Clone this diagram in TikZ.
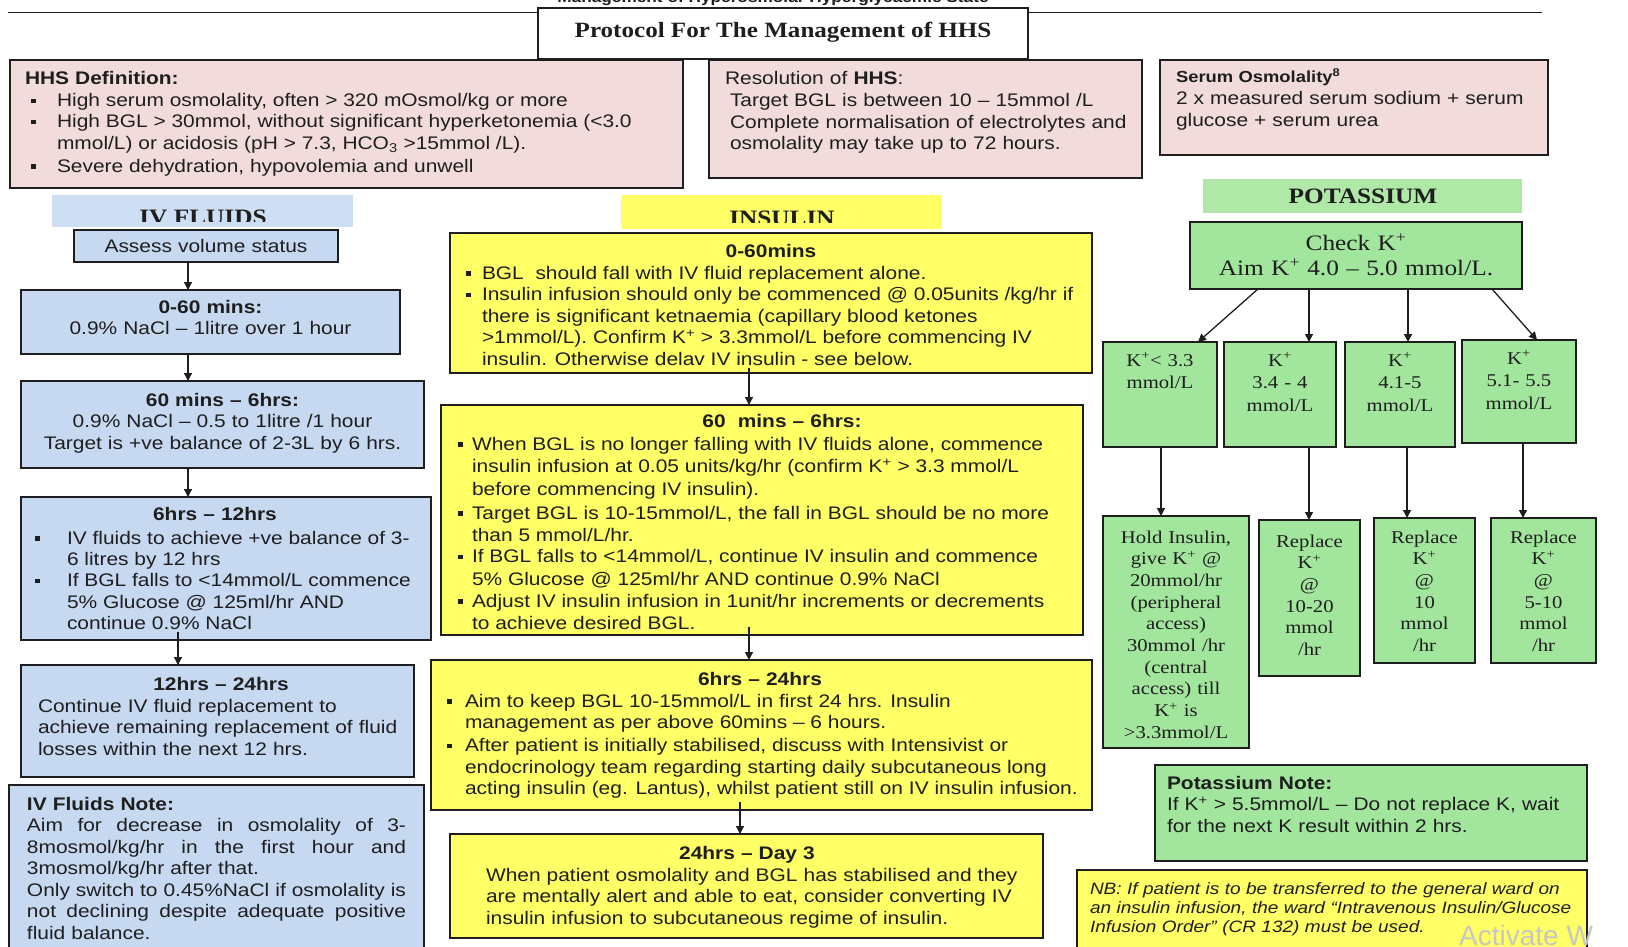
\documentclass[tikz,border=0pt]{standalone}
\usepackage{fontspec}
\setmainfont[FakeStretch=1.15]{Liberation Sans}
\newfontfamily\tms[FakeStretch=1.15]{Liberation Serif}
\newfontfamily\plainsans{Liberation Sans}
\usetikzlibrary{arrows.meta}
\definecolor{pinkc}{HTML}{F2DCDB}
\definecolor{bluec}{HTML}{C6D9F1}
\definecolor{yelc}{HTML}{FFFF66}
\definecolor{greenc}{HTML}{A2E59C}
\definecolor{greenband}{HTML}{B0E8A8}
\definecolor{linec}{HTML}{1E1E1E}
\newcommand{\fs}{\fontsize{18.2}{21.5}\selectfont}
\newcommand{\kf}{\tms\fontsize{18}{22.5}\selectfont}
\newcommand{\rf}{\tms\fontsize{18}{21.7}\selectfont}
\newcommand{\bul}[2]{\makebox[#1][l]{\rule[3.5pt]{4.5pt}{4.5pt}}\parbox[t]{700pt}{#2}}
\newcommand{\jl}[1]{\makebox[379pt][s]{\spaceskip=0pt\xspaceskip=0pt\relax #1}}
\tikzset{
  bx/.style={draw=linec, line width=1.3pt, inner sep=0pt, outer sep=0pt, anchor=north west},
  band/.style={draw=none, inner sep=0pt, outer sep=0pt, anchor=north west},
  tl/.style={inner sep=0pt, outer sep=0pt, anchor=base west, align=left, text width=#1, font=\fs, text=linec},
  tc/.style={inner sep=0pt, outer sep=0pt, anchor=base, align=center, text width=#1, font=\fs, text=linec},
  bl/.style={inner sep=0pt, outer sep=0pt, anchor=base west, font=\fs, text=linec},
  hd/.style={inner sep=0pt, outer sep=0pt, anchor=base, font=\tms\bfseries\fontsize{22}{24}\selectfont, text=linec},
  arr/.style={draw=linec, line width=1.3pt, -{Triangle[length=8pt,width=8pt]}},
}
\begin{document}
\begin{tikzpicture}[x=1pt,y=-1pt]
\useasboundingbox (0,0) rectangle (1628,947);
\fill[white] (0,0) rectangle (1628,947);

% header
\node[inner sep=0pt, anchor=base, font=\bfseries\fontsize{15}{18}\selectfont, text=linec] (hdr) at (773,2.5) {Management of Hyperosmolar Hyperglycaemic State};
\coordinate (lineL) at (8,12.5);
\coordinate (lineR) at (1542,12.5);
\draw[linec, line width=1.4pt] (lineL) -- (lineR);
\node[bx, fill=white, minimum width=490pt, minimum height=51pt] (T) at (538,8) {};
\node[hd, font=\tms\bfseries\fontsize{21.8}{24}\selectfont] (ttl) at (783,38) {Protocol For The Management of HHS};

% top pink boxes
\node[bx, fill=pinkc, minimum width=673pt, minimum height=128pt] (D) at (10,60) {};
\node[tl=660pt] (dT) at (25,85) {\textbf{HHS Definition:}};
\node[bl] (dB1) at (31,107) {\bul{26pt}{High serum osmolality, often > 320 mOsmol/kg or more}};
\node[bl] (dB2) at (31,128) {\bul{26pt}{High BGL > 30mmol, without significant hyperketonemia (<3.0\\mmol/L) or acidosis (pH > 7.3, HCO\textsubscript{3} >15mmol /L).}};
\node[bl] (dB3) at (31,172) {\bul{26pt}{Severe dehydration, hypovolemia and unwell}};

\node[bx, fill=pinkc, minimum width=433pt, minimum height=118pt] (R) at (709,60) {};
\node[tl=420pt] (rT) at (725,85) {Resolution of \textbf{HHS}:};
\node[tl=420pt] (rB) at (730,107) {Target BGL is between 10 – 15mmol /L\\Complete normalisation of electrolytes and\\osmolality may take up to 72 hours.};

\node[bx, fill=pinkc, minimum width=388pt, minimum height=95pt] (S) at (1160,60) {};
\node[tl=380pt, font=\bfseries\fontsize{16}{19}\selectfont] (sT) at (1176,83) {Serum Osmolality\textsuperscript{8}};
\node[tl=380pt] (sB) at (1176,105) {2 x measured serum sodium + serum\\glucose + serum urea};

% IV fluids column
\node[band, fill=bluec!85, minimum width=301pt, minimum height=32pt] (ivband) at (52,195) {};
\begin{scope}
\clip (52,195) rectangle (353,221);
\node[hd] (ivh) at (203,224) {IV FLUIDS};
\end{scope}
\node[bx, fill=bluec, minimum width=264pt, minimum height=32pt] (A) at (74,230) {};
\node[tc=260pt] (aT) at (206,252) {Assess volume status};

\node[bx, fill=bluec, minimum width=379pt, minimum height=64pt] (F1) at (21,290) {};
\node[tc=375pt] (f1T) at (210.5,313) {\textbf{0-60 mins:}\\0.9\% NaCl – 1litre over 1 hour};

\node[bx, fill=bluec, minimum width=403pt, minimum height=87pt] (F2) at (21,381) {};
\node[tc=400pt] (f2T) at (222.5,406) {\textbf{60 mins – 6hrs:}\\0.9\% NaCl – 0.5 to 1litre /1 hour\\Target is +ve balance of 2-3L by 6 hrs.};

\node[bx, fill=bluec, minimum width=410pt, minimum height=143pt] (F3) at (21,497) {};
\node[tc=300pt] (f3H) at (215,520) {\textbf{6hrs – 12hrs}};
\node[bl] (f3B1) at (35,544) {\bul{32pt}{IV fluids to achieve +ve balance of 3-\\6 litres by 12 hrs}};
\node[bl] (f3B2) at (35,586.5) {\bul{32pt}{If BGL falls to <14mmol/L commence\\5\% Glucose @ 125ml/hr AND\\continue 0.9\% NaCl}};

\node[bx, fill=bluec, minimum width=393pt, minimum height=112pt] (F4) at (21,665) {};
\node[tc=300pt] (f4H) at (221,690) {\textbf{12hrs – 24hrs}};
\node[tl=480pt] (f4B) at (38,712) {Continue IV fluid replacement to\\achieve remaining replacement of fluid\\losses within the next 12 hrs.};

\node[bx, fill=bluec, minimum width=415pt, minimum height=175pt] (FN) at (9,785) {};
\node[tl=400pt] (fnT) at (27,810) {\textbf{IV Fluids Note:}\\\jl{Aim for decrease in osmolality of 3-}\\\jl{8mosmol/kg/hr in the first hour and}\\3mosmol/kg/hr after that.\\\jl{Only switch to 0.45\%NaCl if osmolality is}\\\jl{not declining despite adequate positive}\\fluid balance.};

\draw[arr] ([xshift=-18pt]A.south) -- ([xshift=-18pt]A.south |- F1.north);
\draw[arr] ([xshift=-22.5pt]F1.south) -- ([xshift=-22.5pt]F1.south |- F2.north);
\draw[arr] ([xshift=-34.5pt]F2.south) -- ([xshift=-34.5pt]F2.south |- F3.north);
\draw[arr] ([xshift=-48pt,yshift=8pt]F3.south) -- ([xshift=-48pt]F3.south |- F4.north);

% insulin column
\node[band, fill=yelc, minimum width=321pt, minimum height=34pt] (insband) at (621,195) {};
\begin{scope}
\clip (621,195) rectangle (942,222);
\node[hd] (insh) at (782,225) {INSULIN};
\end{scope}

\node[bx, fill=yelc, minimum width=642pt, minimum height=140pt] (I1) at (450,233) {};
\node[tc=400pt] (i1H) at (771,257) {\textbf{0-60mins}};
\node[bl] (i1B1) at (466,279) {\bul{16pt}{BGL \ should fall with IV fluid replacement alone.}};
\node[bl] (i1B2) at (466,300.5) {\bul{16pt}{Insulin infusion should only be commenced @ 0.05units /kg/hr if\\there is significant ketnaemia (capillary blood ketones\\>1mmol/L). Confirm K\textsuperscript{+} > 3.3mmol/L before commencing IV\\insulin. Otherwise delav IV insulin - see below.}};

\node[bx, fill=yelc, minimum width=642pt, minimum height=230pt] (I2) at (441,405) {};
\node[tc=400pt] (i2H) at (782,427.5) {\textbf{60 \ mins – 6hrs:}};
\node[bl, font=\fontsize{18.2}{22.5}\selectfont] (i2B1) at (458,450) {\bul{14pt}{When BGL is no longer falling with IV fluids alone, commence\\insulin infusion at 0.05 units/kg/hr (confirm K\textsuperscript{+} > 3.3 mmol/L\\before commencing IV insulin).}};
\node[bl, font=\fontsize{18.2}{22.5}\selectfont] (i2B2) at (458,519) {\bul{14pt}{Target BGL is 10-15mmol/L, the fall in BGL should be no more\\than 5 mmol/L/hr.}};
\node[bl, font=\fontsize{18.2}{22.5}\selectfont] (i2B3) at (458,562.5) {\bul{14pt}{If BGL falls to <14mmol/L, continue IV insulin and commence\\5\% Glucose @ 125ml/hr AND continue 0.9\% NaCl}};
\node[bl, font=\fontsize{18.2}{22.5}\selectfont] (i2B4) at (458,607) {\bul{14pt}{Adjust IV insulin infusion in 1unit/hr increments or decrements\\to achieve desired BGL.}};

\node[bx, fill=yelc, minimum width=661pt, minimum height=150pt] (I3) at (431,660) {};
\node[tc=400pt] (i3H) at (760,685) {\textbf{6hrs – 24hrs}};
\node[bl, font=\fontsize{18.2}{21.7}\selectfont] (i3B1) at (447,707) {\bul{18pt}{Aim to keep BGL 10-15mmol/L in first 24 hrs. Insulin\\management as per above 60mins – 6 hours.}};
\node[bl, font=\fontsize{18.2}{21.7}\selectfont] (i3B2) at (447,751.5) {\bul{18pt}{After patient is initially stabilised, discuss with Intensivist or\\endocrinology team regarding starting daily subcutaneous long\\acting insulin (eg. Lantus), whilst patient still on IV insulin infusion.}};

\node[bx, fill=yelc, minimum width=593pt, minimum height=104pt] (I4) at (450,834) {};
\node[tc=400pt] (i4H) at (747,859.5) {\textbf{24hrs – Day 3}};
\node[tl=700pt] (i4B) at (486,881) {When patient osmolality and BGL has stabilised and they\\are mentally alert and able to eat, consider converting IV\\insulin infusion to subcutaneous regime of insulin.};

\draw[arr] ([xshift=-22pt,yshift=5pt]I1.south) -- ([xshift=-22pt]I1.south |- I2.north);
\draw[arr] ([xshift=-13pt,yshift=8pt]I2.south) -- ([xshift=-13pt]I2.south |- I3.north);
\draw[arr] ([xshift=-21.5pt,yshift=8pt]I3.south) -- ([xshift=-21.5pt]I3.south |- I4.north);

% potassium column
\node[band, fill=greenband, minimum width=319pt, minimum height=34pt] (kband) at (1203,179) {};
\node[hd] (kh) at (1363,204) {POTASSIUM};
\node[bx, fill=greenc, minimum width=332pt, minimum height=67pt] (CK) at (1190,222) {};
\node[tc=330pt, font=\tms\fontsize{22}{25}\selectfont] (ckT) at (1356,250) {Check K\textsuperscript{+}\\Aim K\textsuperscript{+} 4.0 – 5.0 mmol/L.};

\node[bx, fill=greenc, minimum width=114pt, minimum height=105pt] (K1) at (1103,342) {};
\node[bx, fill=greenc, minimum width=112pt, minimum height=105pt] (K2) at (1224,342) {};
\node[bx, fill=greenc, minimum width=110pt, minimum height=105pt] (K3) at (1345,342) {};
\node[bx, fill=greenc, minimum width=114pt, minimum height=103pt] (K4) at (1462,340) {};
\node[tc=110pt, font=\kf] (k1T) at (1160,366) {K\textsuperscript{+}< 3.3\\mmol/L};
\node[tc=110pt, font=\kf] (k2T) at (1280,366) {K\textsuperscript{+}\\3.4 - 4\\mmol/L};
\node[tc=110pt, font=\kf] (k3T) at (1400,366) {K\textsuperscript{+}\\4.1-5\\mmol/L};
\node[tc=110pt, font=\kf] (k4T) at (1519,364) {K\textsuperscript{+}\\5.1- 5.5\\mmol/L};

\node[bx, fill=greenc, minimum width=146pt, minimum height=232pt] (R1) at (1103,516) {};
\node[bx, fill=greenc, minimum width=101pt, minimum height=156pt] (R2) at (1259,520) {};
\node[bx, fill=greenc, minimum width=101pt, minimum height=145pt] (R3) at (1374,518) {};
\node[bx, fill=greenc, minimum width=105pt, minimum height=145pt] (R4) at (1491,518) {};
\node[tc=140pt, font=\rf] (r1T) at (1176,543) {Hold Insulin,\\give K\textsuperscript{+} @\\20mmol/hr\\(peripheral\\access)\\30mmol /hr\\(central\\access) till\\K\textsuperscript{+} is\\>3.3mmol/L};
\node[tc=100pt, font=\rf] (r2T) at (1309.5,547) {Replace\\K\textsuperscript{+}\\@\\10-20\\mmol\\/hr};
\node[tc=100pt, font=\rf] (r3T) at (1424.5,543) {Replace\\K\textsuperscript{+}\\@\\10\\mmol\\/hr};
\node[tc=100pt, font=\rf] (r4T) at (1543.5,543) {Replace\\K\textsuperscript{+}\\@\\5-10\\mmol\\/hr};

\draw[arr] ([xshift=-98pt]CK.south) -- ([xshift=38pt]K1.north);
\draw[arr] ([xshift=-47pt]CK.south) -- ([xshift=-47pt]CK.south |- K2.north);
\draw[arr] ([xshift=52pt]CK.south) -- ([xshift=52pt]CK.south |- K3.north);
\draw[arr] ([xshift=136pt]CK.south) -- ([xshift=18pt]K4.north);
\draw[arr] ([xshift=1pt]K1.south) -- ([xshift=1pt]K1.south |- R1.north);
\draw[arr] ([xshift=29pt]K2.south) -- ([xshift=29pt]K2.south |- R2.north);
\draw[arr] ([xshift=7pt]K3.south) -- ([xshift=7pt]K3.south |- R3.north);
\draw[arr] ([xshift=4pt]K4.south) -- ([xshift=4pt]K4.south |- R4.north);

\node[bx, fill=greenc, minimum width=432pt, minimum height=96pt] (KN) at (1155,765) {};
\node[tl=420pt] (knT) at (1167,789) {\textbf{Potassium Note:}\\If K\textsuperscript{+} > 5.5mmol/L – Do not replace K, wait\\for the next K result within 2 hrs.};

\node[bx, fill=yelc, minimum width=510pt, minimum height=100pt] (NB) at (1077,870) {};
\node[tl=505pt, font=\itshape\fontsize{16.5}{19}\selectfont] (nbT) at (1090,894) {NB: If patient is to be transferred to the general ward on\\an insulin infusion, the ward “Intravenous Insulin/Glucose\\Infusion Order” (CR 132) must be used.};

\node[inner sep=0pt, anchor=base west, font=\plainsans\fontsize{28}{30}\selectfont, text=gray!45] (wm) at (1459,945) {Activate W};
\end{tikzpicture}
\end{document}
